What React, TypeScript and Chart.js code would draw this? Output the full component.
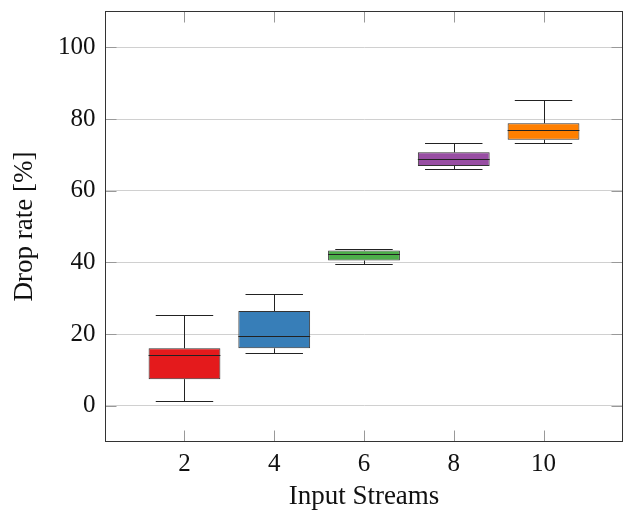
import React, { useEffect, useRef } from 'react';
import { Chart, registerables } from 'chart.js';

Chart.register(...registerables);

const categories = ['2', '4', '6', '8', '10'];
const positions = [1, 2, 3, 4, 5];
const whiskerLow = [1.4, 14.8, 39.5, 66.0, 73.4];
const quartile1 = [7.4, 16.0, 40.5, 66.9, 74.2];
const medians = [14.1, 19.5, 42.2, 68.7, 76.9];
const quartile3 = [16.0, 26.4, 43.3, 70.7, 78.8];
const whiskerHigh = [25.3, 31.1, 43.8, 73.4, 85.2];
const boxColors = ['#e41a1c', '#377eb8', '#4daf4a', '#984ea3', '#ff7f00'];
const yTicks = [0, 20, 40, 60, 80, 100];

const FONT = '"Liberation Serif", "DejaVu Serif", serif';
const TEXT = '#111';

const boxPlugin = {
  id: 'boxExtras',
  beforeDatasetsDraw(chart: any) {
    const { ctx, scales } = chart;
    const x = scales.x, y = scales.y;
    ctx.save();
    ctx.strokeStyle = '#222';
    ctx.lineWidth = 1;
    positions.forEach((p, i) => {
      const cx = Math.round(x.getPixelForValue(p)) + 0.5;
      const capL = x.getPixelForValue(p - 0.32);
      const capR = x.getPixelForValue(p + 0.32);
      const yLo = Math.round(y.getPixelForValue(whiskerLow[i])) + 0.5;
      const yHi = Math.round(y.getPixelForValue(whiskerHigh[i])) + 0.5;
      ctx.beginPath();
      ctx.moveTo(cx, y.getPixelForValue(quartile1[i]));
      ctx.lineTo(cx, yLo);
      ctx.moveTo(capL, yLo);
      ctx.lineTo(capR, yLo);
      ctx.moveTo(cx, y.getPixelForValue(quartile3[i]));
      ctx.lineTo(cx, yHi);
      ctx.moveTo(capL, yHi);
      ctx.lineTo(capR, yHi);
      ctx.stroke();
    });
    ctx.restore();
  },
  afterDatasetsDraw(chart: any) {
    const { ctx, scales, chartArea } = chart;
    const x = scales.x, y = scales.y;
    ctx.save();
    ctx.strokeStyle = '#222';
    ctx.lineWidth = 1;
    positions.forEach((p, i) => {
      const ym = Math.round(y.getPixelForValue(medians[i])) + 0.5;
      ctx.beginPath();
      ctx.moveTo(x.getPixelForValue(p - 0.4), ym);
      ctx.lineTo(x.getPixelForValue(p + 0.4), ym);
      ctx.stroke();
    });
    const tl = 11;
    ctx.strokeStyle = '#999';
    ctx.beginPath();
    positions.forEach((p) => {
      const px = Math.round(x.getPixelForValue(p)) + 0.5;
      ctx.moveTo(px, chartArea.top);
      ctx.lineTo(px, chartArea.top + tl);
      ctx.moveTo(px, chartArea.bottom);
      ctx.lineTo(px, chartArea.bottom - tl);
    });
    yTicks.forEach((v) => {
      const py = Math.round(y.getPixelForValue(v)) + 0.5;
      ctx.moveTo(chartArea.left, py);
      ctx.lineTo(chartArea.left + tl, py);
      ctx.moveTo(chartArea.right, py);
      ctx.lineTo(chartArea.right - tl, py);
    });
    ctx.stroke();
    ctx.strokeStyle = '#333';
    ctx.strokeRect(chartArea.left, chartArea.top, chartArea.right - chartArea.left, chartArea.bottom - chartArea.top);
    ctx.restore();
  },
};

export default function App() {
  const ref = useRef<HTMLCanvasElement | null>(null);
  useEffect(() => {
    document.body.style.margin = '0';
    const canvas = ref.current;
    if (!canvas) return;
    const chart = new Chart(canvas, {
      type: 'bar',
      data: {
        datasets: [
          {
            data: positions.map((p, i) => ({ x: p, y: [quartile1[i], quartile3[i]] })) as any,
            backgroundColor: boxColors,
            borderColor: '#333',
            borderWidth: 1,
            borderSkipped: false,
            barPercentage: 0.8,
            categoryPercentage: 1,
            grouped: false,
          } as any,
        ],
      },
      options: {
        animation: false,
        responsive: false,
        devicePixelRatio: 1,
        layout: { padding: { top: 11.5, right: 0.5, left: 0, bottom: 0 } },
        plugins: { legend: { display: false }, tooltip: { enabled: false } },
        scales: {
          x: {
            type: 'linear',
            offset: false,
            min: 0.12,
            max: 5.88,
            grid: { display: false, drawTicks: false, offset: false },
            border: { display: false },
            afterBuildTicks: (s: any) => {
              s.ticks = positions.map((v) => ({ value: v }));
            },
            afterFit: (s: any) => {
              s.height = 68.5;
              s.paddingLeft = 0;
              s.paddingRight = 0;
            },
            ticks: {
              autoSkip: false,
              maxRotation: 0,
              padding: 8,
              color: TEXT,
              font: { family: FONT, size: 25 },
              callback: (v: any) => {
                const idx = positions.indexOf(Number(v));
                return idx >= 0 ? categories[idx] : '';
              },
            },
            title: {
              display: true,
              text: 'Input Streams',
              color: TEXT,
              font: { family: FONT, size: 27, lineHeight: 1 },
              padding: { top: 0, bottom: 0 },
            },
          } as any,
          y: {
            type: 'linear',
            min: -10,
            max: 110,
            grid: { color: '#d0d0d0', lineWidth: 1, drawTicks: false },
            border: { display: false },
            afterBuildTicks: (s: any) => {
              s.ticks = yTicks.map((v) => ({ value: v }));
            },
            afterFit: (s: any) => {
              s.width = 105.5;
              s.paddingTop = 0;
              s.paddingBottom = 0;
            },
            ticks: {
              padding: 10,
              color: TEXT,
              font: { family: FONT, size: 25 },
            },
            title: {
              display: true,
              text: 'Drop rate [%]',
              color: TEXT,
              font: { family: FONT, size: 27, lineHeight: 1 },
              padding: { top: 11, bottom: 0 },
            },
          } as any,
        },
      },
      plugins: [boxPlugin],
    });
    return () => chart.destroy();
  }, []);
  return <canvas ref={ref} width={623} height={510} style={{ display: 'block', width: 623, height: 510 }} />;
}
